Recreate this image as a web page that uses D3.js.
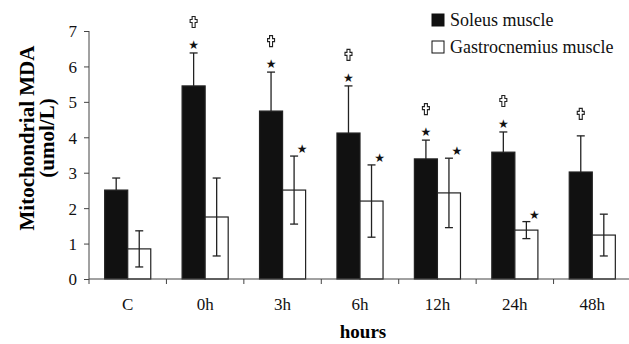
<!DOCTYPE html>
<html>
<head>
<meta charset="utf-8">
<script src="https://cdn.jsdelivr.net/npm/d3@7"></script>
<style>
  body { margin: 0; background: #fff; }
  text { font-family: "Liberation Serif", "Times New Roman", serif; }
</style>
</head>
<body>
<div id="chart"></div>
<script>
var categories = ["C", "0h", "3h", "6h", "12h", "24h", "48h"];
var series = ["Soleus muscle", "Gastrocnemius muscle"];
var soleus = [2.51, 5.45, 4.74, 4.12, 3.39, 3.58, 3.02];
var soleusErr = [0.34, 0.93, 1.10, 1.33, 0.53, 0.57, 1.02];
var gastro = [0.85, 1.75, 2.51, 2.20, 2.43, 1.38, 1.24];
var gastroErr = [0.51, 1.10, 0.96, 1.02, 0.98, 0.24, 0.59];
var soleusStar = [false, true, true, true, true, true, false];
var soleusDagger = [false, true, true, true, true, true, true];
var gastroStar = [false, false, true, true, true, true, false];
var yTicks = [0, 1, 2, 3, 4, 5, 6, 7];

var width = 629, height = 344;
var plotLeft = 89, plotRight = 631, plotTop = 31, plotBottom = 279;
var axisColor = "#444";
var serif = "Liberation Serif";

var svg = d3.select('#chart')
    .append('svg')
    .attr('width', width)
    .attr('height', height);

var x0 = d3.scaleBand().domain(categories).range([plotLeft, plotRight]).paddingInner(0).paddingOuter(0);
var x1 = d3.scaleBand().domain(series).range([0, x0.bandwidth()]).paddingInner(0).paddingOuter(0.68);
var y = d3.scaleLinear().domain([0, 7]).range([plotBottom, plotTop]);

var data = categories.map(function (c, i) {
    return [
        { cat: c, s: series[0], v: soleus[i], e: soleusErr[i], up: true, star: soleusStar[i], dagger: soleusDagger[i] },
        { cat: c, s: series[1], v: gastro[i], e: gastroErr[i], up: false, star: gastroStar[i], dagger: false }
    ];
});
var flat = [].concat.apply([], data);

function cx(d) { return x0(d.cat) + x1(d.s) + x1.bandwidth() / 2; }

// bars
svg.selectAll('rect.bar')
    .data(flat)
    .enter()
    .append('rect')
    .attr('class', 'bar')
    .attr('x', function (d) { return x0(d.cat) + x1(d.s); })
    .attr('y', function (d) { return y(d.v); })
    .attr('width', x1.bandwidth())
    .attr('height', function (d) { return y(0) - y(d.v); })
    .attr('fill', function (d) { return d.s == series[0] ? "#111" : "#fff"; })
    .attr('stroke', "#222")
    .attr('stroke-width', 1.2);

// error bars
var cap = 4;
var err = svg.selectAll('g.err')
    .data(flat)
    .enter()
    .append('g')
    .attr('class', 'err')
    .attr('stroke', '#222')
    .attr('stroke-width', 1.3);

err.append('line')
    .attr('x1', cx)
    .attr('x2', cx)
    .attr('y1', function (d) { return d.up ? y(d.v) : y(d.v - d.e); })
    .attr('y2', function (d) { return y(d.v + d.e); });

err.append('line')
    .attr('x1', function (d) { return cx(d) - cap; })
    .attr('x2', function (d) { return cx(d) + cap; })
    .attr('y1', function (d) { return y(d.v + d.e); })
    .attr('y2', function (d) { return y(d.v + d.e); });

err.filter(function (d) { return !d.up; })
    .append('line')
    .attr('x1', function (d) { return cx(d) - cap; })
    .attr('x2', function (d) { return cx(d) + cap; })
    .attr('y1', function (d) { return y(d.v - d.e); })
    .attr('y2', function (d) { return y(d.v - d.e); });

// stars
svg.selectAll('text.star')
    .data(flat.filter(function (d) { return d.star; }))
    .enter()
    .append('text')
    .attr('class', 'star')
    .attr('x', function (d) { return cx(d) + (d.up ? 0 : 8); })
    .attr('y', function (d) { return y(d.v + d.e) - (d.up ? 4 : 3); })
    .attr('text-anchor', 'middle')
    .style('font-family', 'DejaVu Sans')
    .style('font-size', '12px')
    .style('fill', '#111')
    .text('\u2605');

// daggers (outlined cross)
var crossPath = 'M-1.5,-5.5H1.5V-2.5H3.5V0.5H1.5V5.5H-1.5V0.5H-3.5V-2.5H-1.5Z';
svg.selectAll('path.dagger')
    .data(flat.filter(function (d) { return d.dagger; }))
    .enter()
    .append('path')
    .attr('class', 'dagger')
    .attr('d', crossPath)
    .attr('transform', function (d) {
        return 'translate(' + cx(d) + ',' + (y(d.v + d.e) - (d.star ? 31 : 22)) + ')';
    })
    .attr('fill', '#fff')
    .attr('stroke', '#222')
    .attr('stroke-width', 1.1);

// y axis
var yAxis = svg.append('g')
    .attr('transform', 'translate(' + plotLeft + ',0)')
    .call(d3.axisLeft(y).tickValues(yTicks).tickSize(5).tickPadding(7).tickFormat(d3.format('d')));
yAxis.select('.domain').attr('stroke', axisColor).attr('d', 'M0,' + plotTop + 'V' + plotBottom);
yAxis.selectAll('.tick line').attr('stroke', axisColor);
yAxis.selectAll('.tick text').style('font-size', '17px').style('font-family', serif).style('fill', '#111').attr('dy', '0.35em');

// x axis
var xAxis = svg.append('g')
    .attr('transform', 'translate(0,' + plotBottom + ')');
xAxis.append('line')
    .attr('x1', plotLeft).attr('x2', width)
    .attr('stroke', axisColor);
xAxis.selectAll('line.tick')
    .data(categories)
    .enter()
    .append('line')
    .attr('class', 'tick')
    .attr('x1', function (d) { return x0(d); })
    .attr('x2', function (d) { return x0(d); })
    .attr('y2', 5)
    .attr('stroke', axisColor);
xAxis.selectAll('text')
    .data(categories)
    .enter()
    .append('text')
    .attr('x', function (d) { return x0(d) + x0.bandwidth() / 2; })
    .attr('y', 31)
    .attr('text-anchor', 'middle')
    .style('font-family', serif)
    .style('font-size', '17px')
    .style('fill', '#111')
    .text(function (d) { return d; });

// axis titles
svg.append('text')
    .attr('x', 363)
    .attr('y', 338)
    .attr('text-anchor', 'middle')
    .style('font-family', serif)
    .style('font-size', '19px')
    .style('font-weight', 'bold')
    .text('hours');

var yt = svg.append('text')
    .attr('transform', 'translate(0,138) rotate(-90)')
    .attr('text-anchor', 'middle')
    .style('font-family', serif)
    .style('font-size', '21px')
    .style('font-weight', 'bold');
yt.append('tspan').attr('x', 0).attr('y', 34).text('Mitochondrial MDA');
yt.append('tspan').attr('x', 0).attr('y', 54).text('(umol/L)');

// legend
var legend = svg.selectAll('g.legend')
    .data(series)
    .enter()
    .append('g')
    .attr('class', 'legend')
    .attr('transform', function (d, i) { return 'translate(432,' + (14 + i * 27) + ')'; });
legend.append('rect')
    .attr('width', 12)
    .attr('height', 12)
    .attr('fill', function (d, i) { return i == 0 ? '#111' : '#fff'; })
    .attr('stroke', '#111');
legend.append('text')
    .attr('x', 18)
    .attr('y', 12)
    .style('font-family', serif)
    .style('font-size', '18px')
    .style('fill', '#111')
    .text(function (d) { return d; });
</script>
</body>
</html>
